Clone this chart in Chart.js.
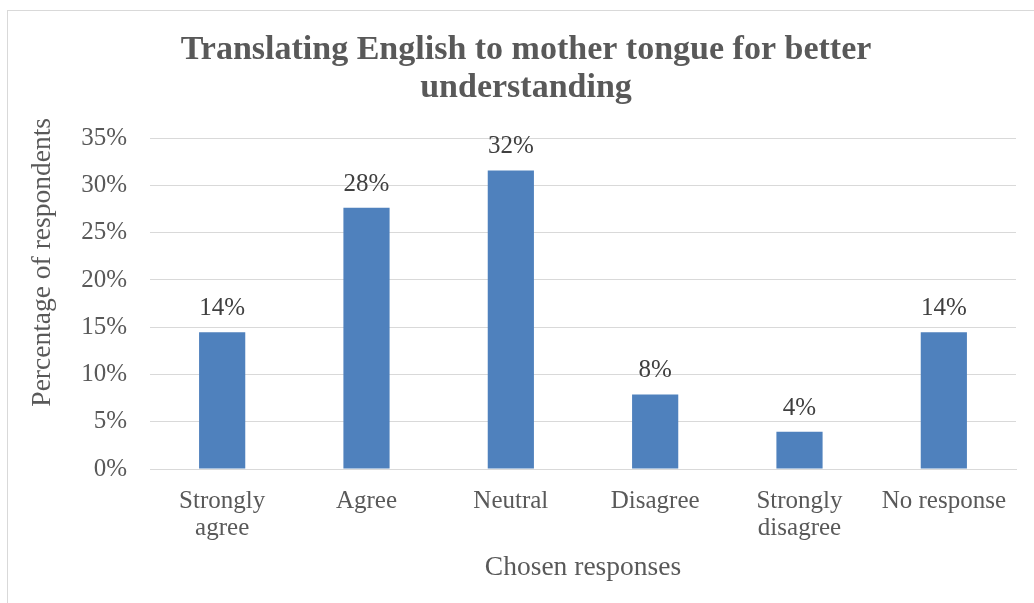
<!DOCTYPE html>
<html>
<head>
<meta charset="utf-8">
<script src="https://cdn.jsdelivr.net/npm/chart.js@4/dist/chart.umd.min.js"></script>
<style>
  body { margin: 0; background: #fff; }
  #frame { position: absolute; left: 7px; top: 10px; width: 1040px; height: 600px; border: 1px solid #d9d9d9; }
  #wrap { position: absolute; left: 0; top: 0; width: 1034px; height: 603px; }
</style>
</head>
<body>
<div id="frame"></div>
<div id="wrap"><canvas id="chart"></canvas></div>
<script>
const categories = [['Strongly', 'agree'], 'Agree', 'Neutral', 'Disagree', ['Strongly', 'disagree'], 'No response']
// share of 76 respondents, in percent
const percentages = [14.47, 27.63, 31.58, 7.89, 3.95, 14.47]
const yTicks = [0, 5, 10, 15, 20, 25, 30, 35]

const serif = "'Liberation Serif', serif"
const grey = '#595959'

// writes the rounded value above each bar
const barLabels = {
  id: 'barLabels',
  afterDatasetsDraw(chart) {
    const ctx = chart.ctx
    const meta = chart.getDatasetMeta(0)
    ctx.save()
    ctx.font = '25px ' + serif
    ctx.fillStyle = '#404040'
    ctx.textAlign = 'center'
    ctx.textBaseline = 'alphabetic'
    meta.data.forEach((bar, i) => {
      ctx.fillText(Math.round(percentages[i]) + '%', bar.x, bar.y - 17)
    })
    ctx.restore()
  }
}

new Chart(document.getElementById('chart'), {
  type: 'bar',
  data: {
    labels: categories,
    datasets: [{
      data: percentages,
      backgroundColor: '#4f81bd',
      categoryPercentage: 1,
      barPercentage: 0.32
    }]
  },
  plugins: [barLabels],
  options: {
    responsive: true,
    maintainAspectRatio: false,
    animation: false,
    layout: { padding: { left: 36, right: 18, top: 0, bottom: 0 } },
    plugins: {
      legend: { display: false },
      tooltip: { enabled: false },
      title: {
        display: true,
        text: ['Translating English to mother tongue for better', 'understanding'],
        color: grey,
        font: { family: serif, size: 34, weight: 'bold', lineHeight: 1.12 },
        padding: { top: 31, bottom: 31 }
      }
    },
    scales: {
      x: {
        grid: { display: false, drawTicks: false },
        border: { color: '#d9d9d9', width: 1 },
        ticks: { color: grey, font: { family: serif, size: 25, lineHeight: 1.08 }, padding: 19, maxRotation: 0, autoSkip: false },
        title: { display: true, text: 'Chosen responses', color: grey, font: { family: serif, size: 27.5 }, padding: { top: 0, bottom: 19 } },
        afterFit(scale) { scale.height = 134 }
      },
      y: {
        min: 0,
        max: 35,
        afterBuildTicks(scale) { scale.ticks = yTicks.map(v => ({ value: v })) },
        grid: { color: '#d9d9d9', drawTicks: false },
        border: { display: false },
        ticks: { color: grey, font: { family: serif, size: 25 }, padding: 23, callback: v => v + '%' },
        // leading spaces lift the title above the middle of the axis
        title: { display: true, text: '            Percentage of respondents', color: grey, font: { family: serif, size: 27.5 }, padding: { top: -10, bottom: 0 } },
        afterFit(scale) { scale.width = 114 }
      }
    }
  }
})
</script>
</body>
</html>
